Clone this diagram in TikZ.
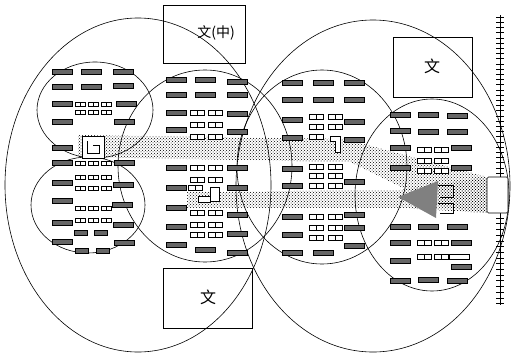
\documentclass[tikz,border=0pt]{standalone}
\usepackage{fontspec}
\newfontfamily\cjk{Noto Sans CJK SC}
\usetikzlibrary{patterns}

\begin{document}
\begin{tikzpicture}[x=1pt,y=-1pt,line width=0.6pt,
  bar/.style={draw=black,fill=black!60,line width=0.4pt},
  pair/.style={draw=black,fill=white,line width=0.5pt},
  dotband/.style={pattern=crosshatch dots,pattern color=black}]
\useasboundingbox (0,0) rectangle (511,356);
% dotted bands
\fill[dotband](78,135)--(345,139)--(487,177)--(487,213)--(440,206)--(350,162)--(78,157)--cycle;
\fill[dotband](187,192)--(400,190)--(487,177)--(487,213)--(400,208)--(187,208)--cycle;
% ellipses
\draw(138,185)ellipse[x radius=133,y radius=167];
\draw(373,186)ellipse[x radius=137,y radius=166];
\draw(95,110)ellipse[x radius=58,y radius=48];
\draw(88,205)ellipse[x radius=57,y radius=48];
\draw(205,166)ellipse[x radius=87,y radius=96];
\draw(322,167)ellipse[x radius=85,y radius=97];
\draw(432,195)ellipse[x radius=77,y radius=96];
% bars
\foreach \x/\y in {62/72,62/87,62/104,62/122,62/148,62/163,62/183,62/201,62/223,62/242,
  91/72,91/87,123/72,123/86,126/104,124/122,124/163,123/185,122/205,123/225,124/243,
  176/80,176/95,176/113,176/130,176/168,176/188,176/208,176/227,176/245,
  205/80,205/95,205/250,
  237/82,237/95,237/114,237/132,237/168,237/188,237/215,237/234,237/253,
  292/83,292/100,292/120,292/138,292/169,292/186,292/217,292/235,292/253,
  323/83,323/100,323/253,
  354/83,354/100,354/122,354/140,354/182,354/215,354/228,354/246,
  400/115,400/131,400/148,400/168,400/227,400/243,400/261,400/281,
  428/115,428/132,428/227,428/280,
  457/116,457/132,461/148,461/168,457/227,461/243,461/267,457/281}
  \draw[bar](\x-10,\y-2.5)rectangle(\x+10,\y+2.5);
\foreach \x/\y in {81/233,101/233,82/251,103/251}
  \draw[bar](\x-6.5,\y-2.5)rectangle(\x+6.5,\y+2.5);
\draw[pair](449,254)rectangle(469,259);
% small double boxes
\foreach \y in {104,112,163,177,188,208,220}
  \foreach \x in {80,93,106}
    \draw[pair](\x-5,\y-2)rectangle(\x+5,\y+2)(\x,\y-2)--(\x,\y+2);
\foreach \x/\y in {197/113,215/113,197/125,215/125,197/137,215/137,197/168,215/168,
  197/180,215/180,195/188,197/213,215/213,197/225,215/225,197/235,215/235,
  316/117,335/117,316/127,335/127,316/137,316/167,335/167,316/176,335/176,
  316/186,335/186,316/217,335/217,316/228,335/228,316/238,335/238,
  424/150,441/150,424/161,441/161,424/171,441/171,424/243,441/243,424/257,441/257}
  \draw[pair](\x-7,\y-2.5)rectangle(\x+7,\y+2.5)(\x,\y-2.5)--(\x,\y+2.5);
% marks
\draw[pair](82,136)rectangle(104,158);
\draw(87,141)--(87,153)--(99,153)--(99,145)--(93,145);
\draw[pair](210,187)rectangle(219,201);
\draw[pair](198,196)--(210,196)--(210,202)--(198,202)--cycle;
\draw[pair](330,136)--(340,136)--(340,152)--(335,152)--(335,141)--(330,141)--cycle;
\fill[black!50](398,197)--(438,181)--(436,218)--cycle;
\draw(438,185)--(453,185)--(453,197)--(440,197);
\draw(438,203)--(453,203)--(453,213)--(440,213);
% boxes with text
\draw(163,5)rectangle(245,63);
\node[font=\cjk\fontsize{14}{14}\selectfont](midchar)at(216,33){文(中)};
\draw(393,37)rectangle(472,97);
\node[font=\cjk\fontsize{16}{16}\selectfont](rightchar)at(432,66){文};
\draw(163,268)rectangle(252,328);
\node[font=\cjk\fontsize{16}{16}\selectfont](lowchar)at(208,297){文};
% scale on the right
\draw(500,15)--(500,305);
\foreach \y in {17,22.2,...,175} \draw(496,\y)--(504,\y);
\foreach \y in {218,223.7,...,305} \draw(496,\y)--(504,\y);
\draw[fill=white,rounded corners=1.5pt](487,177)rectangle(508,213);
\end{tikzpicture}
\end{document}
